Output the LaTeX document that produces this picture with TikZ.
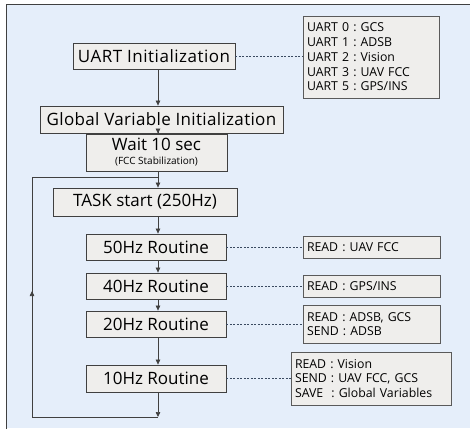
\documentclass[tikz,border=0pt]{standalone}
\usepackage{fontspec}
\setmainfont{Open Sans}
\usetikzlibrary{arrows.meta}
\frenchspacing
\definecolor{bgblue}{HTML}{E5EEFA}
\definecolor{boxfill}{HTML}{EFEEEC}
\definecolor{boxline}{HTML}{404040}
\definecolor{infoline}{HTML}{5A5A5A}
\definecolor{dashcol}{HTML}{3A4A60}
\tikzset{
  mainbox/.style={draw=boxline, fill=boxfill, line width=0.8pt, inner sep=0pt, font=\fontsize{17}{18}\selectfont},
  infobox/.style={draw=infoline, fill=boxfill, line width=0.8pt, inner xsep=4pt, inner ysep=0pt, align=left, text width=#1, font=\fontsize{12.3}{14.7}\selectfont},
  flow/.style={draw=boxline, line width=0.7pt, -{Triangle[width=4.5pt,length=5pt]}},
  plain/.style={draw=boxline, line width=0.7pt},
  link/.style={draw=dashcol, line width=0.6pt, dash pattern=on 2pt off 1.5pt},
}
\begin{document}
\begin{tikzpicture}[x=1pt,y=-1pt]
\useasboundingbox (0,0) rectangle (470,429);
\fill[bgblue] (6,4) rectangle (470,428);
\draw[boxline, line width=0.8pt] (6,429) -- (6,4) -- (470,4);

\coordinate (col) at (158,0);

\node[mainbox, minimum width=162pt, minimum height=26pt] (uart) at (154,56) {\addfontfeatures{LetterSpace=3}UART Initialization};
\node[infobox=128pt, minimum height=82pt] (iuart) at (371,57) {UART 0 : GCS\\UART 1 : ADSB\\UART 2 : Vision\\UART 3 : UAV FCC\\UART 5 : GPS/INS};
\node[mainbox, minimum width=243pt, minimum height=27pt] (glob) at (161.5,119.5) {\addfontfeatures{LetterSpace=2}Global Variable Initialization};
\node[mainbox, minimum width=141pt, minimum height=37pt, align=center] (wait) at (156.5,152.5) {Wait 10 sec\\[-4pt]{\fontsize{10}{11}\selectfont (FCC Stabilization)}};
\node[mainbox, minimum width=184pt, minimum height=28pt] (task) at (145,202) {TASK start (250Hz)};
\node[mainbox, minimum width=140pt, minimum height=26pt] (r50) at (156,247) {50Hz Routine};
\node[mainbox, minimum width=140pt, minimum height=26pt] (r40) at (156,286) {40Hz Routine};
\node[mainbox, minimum width=140pt, minimum height=26pt] (r20) at (156,324) {20Hz Routine};
\node[mainbox, minimum width=140pt, minimum height=27pt] (r10) at (156,378.5) {10Hz Routine};

\node[infobox=129pt, minimum height=22pt] (i50) at (371.5,247) {READ : UAV FCC};
\node[infobox=129pt, minimum height=22pt] (i40) at (371.5,286) {READ : GPS/INS};
\node[infobox=129pt, minimum height=38pt] (i20) at (371.5,324) {READ : ADSB, GCS\\SEND : ADSB};
\node[infobox=152pt, minimum height=53pt] (i10) at (371,378.5) {READ : Vision\\SEND : UAV FCC, GCS\\SAVE \ : Global Variables};

\draw[flow] (uart.south -| col) -- (glob.north -| col);
\draw[flow] (glob.south -| col) -- (wait.north -| col);
\draw[flow] (wait.south -| col) -- (task.north -| col);
\draw[flow] (task.south -| col) -- (r50.north -| col);
\draw[flow] (r50.south -| col) -- (r40.north -| col);
\draw[flow] (r40.south -| col) -- (r20.north -| col);
\draw[flow] (r20.south -| col) -- (r10.north -| col);

\coordinate (lbot) at (158,417);
\coordinate (lbl) at (32,417);
\coordinate (ltl) at (32,177);
\coordinate (ltop) at (158,177);
\coordinate (lmid) at (32,291);
\draw[flow] (r10.south -| col) -- (lbot);
\draw[plain] (lbot) -- (lbl) -- (ltl) -- (ltop);
\draw[flow] (lbl) -- (lmid);

\draw[link] (uart.east) -- (uart.east -| iuart.west);
\draw[link] (r50.east) -- (i50.west);
\draw[link] (r40.east) -- (i40.west);
\draw[link] (r20.east) -- (i20.west);
\draw[link] (r10.east) -- (i10.west);
\end{tikzpicture}
\end{document}
